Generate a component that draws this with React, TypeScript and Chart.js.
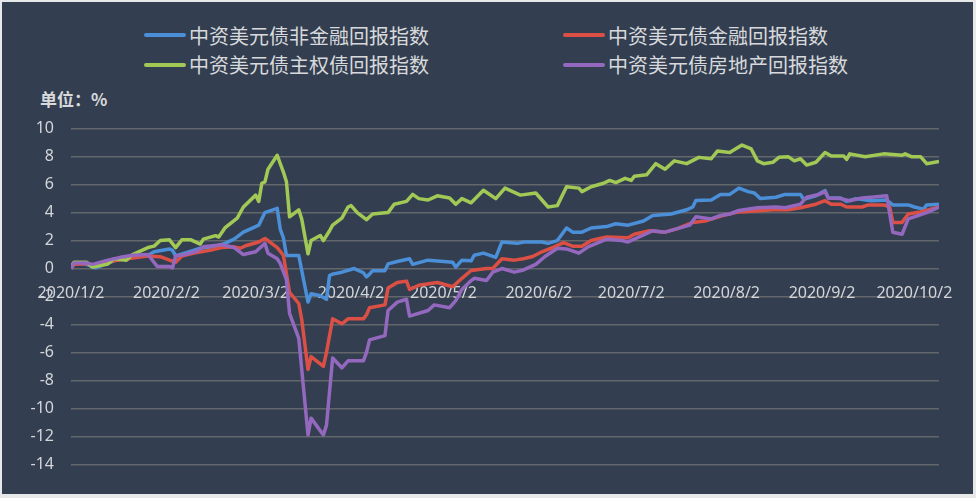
import React, { useEffect, useRef } from "react";
import { Chart, registerables } from "chart.js";

Chart.register(...registerables);

// month ticks on the date axis
const tickLabels = [
  "2020/1/2", "2020/2/2", "2020/3/2", "2020/4/2", "2020/5/2",
  "2020/6/2", "2020/7/2", "2020/8/2", "2020/9/2", "2020/10/2",
];
const lastDate = "10/10";

// 中资美元债非金融回报指数
const nonFinDates = [
  "1/2", "1/3", "1/7", "1/10", "1/16", "1/22", "1/27", "1/29", "2/3", "2/4", "2/5", "2/10",
  "2/13", "2/17", "2/21", "2/24", "2/27", "3/2", "3/3", "3/5", "3/9", "3/10", "3/11", "3/12",
  "3/16", "3/19", "3/20", "3/23", "3/25", "3/26", "3/27", "3/30", "4/3", "4/6", "4/7", "4/8",
  "4/9", "4/13", "4/14", "4/17", "4/21", "4/22", "4/27", "5/5", "5/6", "5/8", "5/11", "5/12",
  "5/15", "5/19", "5/21", "5/26", "5/28", "6/3", "6/5", "6/8", "6/11", "6/13", "6/16", "6/19",
  "6/24", "6/27", "7/1", "7/6", "7/9", "7/15", "7/20", "7/22", "7/23", "7/28", "7/31", "8/3",
  "8/6", "8/9", "8/11", "8/13", "8/18", "8/21", "8/26", "8/27", "8/31", "9/3", "9/4", "9/8",
  "9/10", "9/13", "9/18", "9/23", "9/25", "9/30", "10/2", "10/5", "10/6", "10/10",
];
const nonFinValues = [
  0.0, 0.4, 0.3, 0.05, 0.55, 0.85, 0.95, 1.2, 1.4, 1.3, 0.9, 1.25,
  1.45, 1.55, 1.8, 2.1, 2.6, 3.0, 3.1, 4.0, 4.3, 2.8, 2.2, 0.93,
  0.93, -2.4, -1.8, -1.95, -2.2, -0.5, -0.4, -0.26, 0.0, -0.3, -0.6, -0.4,
  -0.15, -0.15, 0.33, 0.5, 0.7, 0.3, 0.6, 0.45, 0.1, 0.6, 0.55, 0.95,
  1.1, 0.8, 1.9, 1.8, 1.9, 1.9, 1.8, 2.0, 2.9, 2.6, 2.6, 2.9,
  3.0, 3.2, 3.1, 3.4, 3.8, 3.9, 4.2, 4.4, 4.86, 4.9, 5.3, 5.3,
  5.75, 5.5, 5.4, 5.0, 5.1, 5.3, 5.3, 4.95, 5.2, 5.57, 5.05, 5.05,
  4.8, 5.0, 4.85, 4.9, 4.55, 4.55, 4.4, 4.25, 4.55, 4.6,
];

// 中资美元债金融回报指数
const finDates = [
  "1/2", "1/3", "1/7", "1/10", "1/16", "1/22", "1/27", "1/31", "2/3", "2/5", "2/7", "2/11",
  "2/17", "2/20", "2/24", "2/26", "2/28", "3/3", "3/5", "3/6", "3/9", "3/11", "3/13", "3/16",
  "3/17", "3/19", "3/20", "3/24", "3/25", "3/27", "3/30", "4/1", "4/6", "4/7", "4/8", "4/13",
  "4/14", "4/17", "4/20", "4/21", "4/24", "4/30", "5/5", "5/8", "5/11", "5/16", "5/18", "5/21",
  "5/25", "5/28", "5/31", "6/3", "6/7", "6/10", "6/13", "6/16", "6/19", "6/24", "7/1", "7/3",
  "7/8", "7/13", "7/17", "7/22", "7/26", "8/1", "8/6", "8/10", "8/17", "8/22", "8/26", "8/31",
  "9/3", "9/5", "9/8", "9/10", "9/15", "9/17", "9/22", "9/24", "9/25", "9/28", "9/30", "10/4",
  "10/10",
];
const finValues = [
  0.0, 0.3, 0.35, 0.2, 0.55, 0.75, 0.9, 0.85, 0.6, 0.45, 0.9, 1.1,
  1.35, 1.5, 1.55, 1.45, 1.65, 1.9, 2.15, 2.0, 1.5, 0.95, -1.7, -2.5,
  -3.7, -7.2, -6.3, -7.0, -6.0, -3.6, -3.95, -3.6, -3.6, -3.3, -2.8, -2.6,
  -1.4, -1.0, -0.9, -1.5, -1.2, -1.0, -1.3, -0.7, -0.14, 0.0, 0.0, 0.7,
  0.6, 0.7, 0.86, 1.2, 1.55, 1.85, 1.6, 1.6, 2.0, 2.25, 2.2, 2.45,
  2.7, 2.6, 2.85, 3.3, 3.4, 3.8, 4.05, 4.1, 4.2, 4.2, 4.35, 4.6,
  4.85, 4.6, 4.6, 4.4, 4.4, 4.55, 4.55, 4.4, 3.3, 3.3, 3.9, 4.05,
  4.4,
];

// 中资美元债主权债回报指数
const sovDates = [
  "1/2", "1/3", "1/7", "1/9", "1/14", "1/16", "1/20", "1/22", "1/27", "1/29", "1/31", "2/3",
  "2/5", "2/7", "2/10", "2/13", "2/14", "2/18", "2/19", "2/21", "2/25", "2/27", "3/2", "3/3",
  "3/4", "3/5", "3/6", "3/9", "3/11", "3/12", "3/13", "3/16", "3/17", "3/19", "3/20", "3/23",
  "3/24", "3/26", "3/27", "3/30", "4/1", "4/2", "4/4", "4/7", "4/9", "4/14", "4/16", "4/20",
  "4/22", "4/24", "4/27", "4/30", "5/4", "5/6", "5/8", "5/11", "5/15", "5/19", "5/22", "5/27",
  "6/1", "6/5", "6/8", "6/11", "6/15", "6/16", "6/19", "6/23", "6/25", "6/27", "6/30", "7/2",
  "7/3", "7/7", "7/10", "7/13", "7/16", "7/20", "7/24", "7/28", "7/30", "8/3", "8/7", "8/10",
  "8/12", "8/14", "8/17", "8/19", "8/22", "8/24", "8/26", "8/28", "8/31", "9/3", "9/5", "9/9",
  "9/10", "9/11", "9/16", "9/22", "9/28", "9/29", "10/1", "10/4", "10/6", "10/10",
];
const sovValues = [
  0.1, 0.45, 0.45, 0.1, 0.33, 0.7, 0.6, 1.0, 1.5, 1.6, 2.0, 2.05,
  1.5, 2.05, 2.05, 1.75, 2.1, 2.35, 2.25, 2.9, 3.6, 4.4, 5.25, 4.8,
  6.1, 6.2, 7.1, 8.1, 6.9, 6.2, 3.7, 4.2, 3.5, 1.05, 2.0, 2.36,
  2.0, 2.7, 3.1, 3.6, 4.4, 4.5, 4.0, 3.5, 3.9, 4.0, 4.6, 4.8,
  5.3, 5.0, 4.9, 5.2, 5.05, 4.6, 5.0, 4.7, 5.6, 5.0, 5.75, 5.25,
  5.4, 4.4, 4.5, 5.85, 5.75, 5.5, 5.85, 6.1, 6.3, 6.15, 6.45, 6.3,
  6.6, 6.7, 7.5, 7.1, 7.7, 7.5, 7.95, 7.85, 8.4, 8.3, 8.83, 8.55,
  7.7, 7.5, 7.6, 7.95, 8.0, 7.7, 7.85, 7.4, 7.6, 8.3, 8.05, 8.05,
  7.8, 8.2, 8.0, 8.2, 8.1, 8.2, 8.0, 8.0, 7.5, 7.65,
];

// 中资美元债房地产回报指数
const realEstateDates = [
  "1/2", "1/3", "1/7", "1/9", "1/14", "1/18", "1/22", "1/27", "1/30", "2/3", "2/4", "2/5",
  "2/8", "2/12", "2/14", "2/20", "2/24", "2/27", "3/2", "3/5", "3/6", "3/9", "3/10", "3/12",
  "3/13", "3/16", "3/19", "3/20", "3/24", "3/25", "3/27", "3/30", "4/1", "4/6", "4/7", "4/8",
  "4/13", "4/14", "4/17", "4/20", "4/21", "4/27", "4/29", "5/4", "5/6", "5/8", "5/11", "5/12",
  "5/16", "5/18", "5/21", "5/25", "5/28", "6/1", "6/4", "6/8", "6/11", "6/15", "6/18", "6/24",
  "6/29", "7/1", "7/6", "7/9", "7/13", "7/17", "7/21", "7/23", "7/28", "7/31", "8/3", "8/6",
  "8/12", "8/18", "8/21", "8/26", "8/28", "9/1", "9/3", "9/4", "9/8", "9/11", "9/15", "9/18",
  "9/23", "9/25", "9/28", "9/30", "10/2", "10/6", "10/10",
];
const realEstateValues = [
  0.0, 0.4, 0.4, 0.3, 0.6, 0.8, 0.95, 1.0, 0.15, 0.15, 0.05, 0.9,
  1.0, 1.25, 1.55, 1.7, 1.5, 1.0, 1.2, 1.8, 1.1, 0.7, 0.35, -0.8,
  -3.2, -5.0, -11.9, -10.7, -11.9, -11.2, -6.4, -7.1, -6.6, -6.6, -6.0, -5.1,
  -4.8, -3.0, -2.4, -2.2, -3.4, -3.0, -2.6, -2.8, -2.3, -1.5, -0.86, -0.7,
  -0.86, -0.26, 0.0, -0.26, -0.1, 0.3, 0.86, 1.45, 1.4, 1.1, 1.55, 2.1,
  2.0, 1.9, 2.4, 2.7, 2.6, 2.85, 3.1, 3.7, 3.55, 3.8, 3.9, 4.15,
  4.35, 4.4, 4.35, 4.6, 5.1, 5.3, 5.5, 5.05, 5.0, 4.85, 5.05, 5.1,
  5.2, 2.6, 2.45, 3.55, 3.7, 4.0, 4.4,
];

const seriesNames = [
  "中资美元债非金融回报指数",
  "中资美元债金融回报指数",
  "中资美元债主权债回报指数",
  "中资美元债房地产回报指数",
];
const seriesColors = ["#4a8fd8", "#dc4f45", "#a2c856", "#9468bf"];

const dayOf = (md: string) => {
  const parts = md.split("/").map(Number);
  const [m, d] = parts.length === 3 ? [parts[1], parts[2]] : parts;
  return (Date.UTC(2020, m - 1, d) - Date.UTC(2020, 0, 2)) / 86400000;
};

const toPoints = (dates: string[], values: number[]) =>
  dates.map((d, i) => ({ x: dayOf(d), y: values[i] }));

const tickDays = tickLabels.map(dayOf);
const textColor = "#d3d5d9";

export default function App() {
  const canvasRef = useRef<HTMLCanvasElement>(null);

  useEffect(() => {
    document.body.style.margin = "0";
    const series = [
      toPoints(nonFinDates, nonFinValues),
      toPoints(finDates, finValues),
      toPoints(sovDates, sovValues),
      toPoints(realEstateDates, realEstateValues),
    ];
    const chart = new Chart(canvasRef.current!, {
      type: "line",
      data: {
        datasets: series.map((data, i) => ({
          label: seriesNames[i],
          data,
          borderColor: seriesColors[i],
          backgroundColor: seriesColors[i],
          borderWidth: 3.5,
          pointRadius: 0,
          tension: 0,
          borderJoinStyle: "round" as const,
          order: 4 - i,
        })),
      },
      options: {
        responsive: false,
        animation: false,
        events: [],
        layout: { padding: { top: 128.7, bottom: 33.7, left: 0, right: 37 } },
        plugins: {
          legend: { display: false },
          tooltip: { enabled: false },
        },
        scales: {
          x: {
            type: "linear",
            position: { y: 0 },
            min: 0,
            max: dayOf(lastDate),
            z: 1,
            grid: { display: false, drawTicks: false },
            border: { display: false },
            afterBuildTicks: (scale) => {
              scale.ticks = tickDays.map((v) => ({ value: v }));
            },
            ticks: {
              autoSkip: false,
              maxRotation: 0,
              padding: 15,
              color: textColor,
              font: { family: "'Noto Sans', sans-serif", size: 16 },
              callback: (value) => tickLabels[tickDays.indexOf(Number(value))] ?? "",
            },
          },
          y: {
            min: -14,
            max: 10,
            afterFit: (scale) => {
              scale.width = 71;
            },
            grid: { color: "#63666b", lineWidth: 1.4, drawTicks: false },
            border: { display: false },
            ticks: {
              stepSize: 2,
              padding: 17,
              color: textColor,
              font: { family: "'Noto Sans', sans-serif", size: 16 },
            },
          },
        },
      },
    });
    return () => {
      chart.destroy();
    };
  }, []);

  const legendRows = [
    [0, 1],
    [2, 3],
  ];
  const colLeft = [144, 563];
  const rowTop = [35, 64.5];

  return (
    <div
      style={{
        position: "fixed",
        left: 0,
        top: 0,
        width: 976,
        height: 498,
        background: "#e7e8ea",
        overflow: "hidden",
      }}
    >
      <div
        style={{
          position: "absolute",
          left: 2,
          top: 2,
          width: 971,
          height: 492,
          background: "#333f50",
        }}
      />
      {legendRows.map((row, r) =>
        row.map((idx, c) => (
          <div
            key={idx}
            style={{
              position: "absolute",
              left: colLeft[c],
              top: rowTop[r] - 14,
              height: 28,
              display: "flex",
              alignItems: "center",
              fontFamily: "'Noto Sans CJK SC', sans-serif",
              fontSize: 20,
              color: "#d8d9dc",
              whiteSpace: "nowrap",
            }}
          >
            <span
              style={{
                display: "inline-block",
                width: 42,
                height: 4,
                borderRadius: 2,
                background: seriesColors[idx],
                marginRight: 3,
              }}
            />
            <span>{seriesNames[idx]}</span>
          </div>
        ))
      )}
      <div
        style={{
          position: "absolute",
          left: 40,
          top: 87,
          height: 24,
          lineHeight: "24px",
          fontFamily: "'Noto Sans CJK SC', sans-serif",
          fontSize: 17,
          fontWeight: "bold",
          color: "#d8d9dc",
        }}
      >
        单位：%
      </div>
      <canvas
        ref={canvasRef}
        width={976}
        height={498}
        style={{ position: "absolute", left: 0, top: 0 }}
      />
    </div>
  );
}
